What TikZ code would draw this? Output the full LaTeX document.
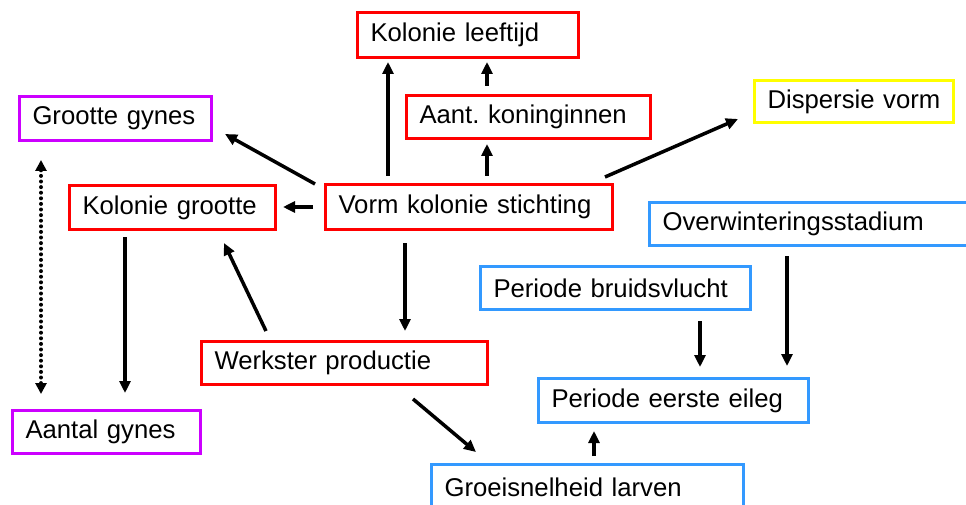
\documentclass[tikz,border=0pt]{standalone}
\usepackage{fontspec}
\setmainfont{Liberation Sans}
\usetikzlibrary{arrows.meta,calc}
\definecolor{cred}{RGB}{255,0,0}
\definecolor{cpurple}{RGB}{204,0,255}
\definecolor{cblue}{RGB}{51,153,255}
\definecolor{cyellow}{RGB}{255,255,0}
\frenchspacing
\begin{document}
\begin{tikzpicture}[x=1pt,y=-1pt,
  box/.style={draw=#1, line width=3pt, anchor=north west, inner xsep=13pt, inner ysep=0pt, align=left, font=\fontsize{25.7}{30}\selectfont},
  arr/.style={line width=3.5pt, -{Triangle[length=12pt,width=11pt]}},
  dotarr/.style={line width=4pt, dash pattern=on 0pt off 5.6pt, line cap=round, {Triangle[length=11pt,width=11pt]}-{Triangle[length=11pt,width=11pt]}}]
\useasboundingbox (0,0) rectangle (966,505);
\clip (0,0) rectangle (966,505);
\fill[white] (0,0) rectangle (966,505);
% nodes
\node[box=cred, text width=195pt, minimum height=45pt] (kl) at (356,11) {Kolonie leeftijd};
\node[box=cred, text width=218pt, minimum height=43pt] (ak) at (405,94) {Aant. koninginnen};
\node[box=cred, text width=261pt, minimum height=45pt] (vks) at (324,183) {Vorm kolonie stichting};
\node[box=cyellow, text width=173pt, minimum height=42pt] (dv) at (753,79) {Dispersie vorm};
\node[box=cpurple, text width=166pt, minimum height=44pt] (gg) at (18,95) {Grootte gynes};
\node[box=cred, text width=180pt, minimum height=44pt] (kg) at (68,184) {Kolonie grootte};
\node[box=cpurple, text width=162pt, minimum height=43pt] (ag) at (11,409) {Aantal gynes};
\node[box=cred, text width=260pt, minimum height=43pt] (wp) at (200,340) {Werkster productie};
\node[box=cblue, text width=244pt, minimum height=43pt] (pb) at (479,265) {Periode bruidsvlucht};
\node[box=cblue, text width=316pt, minimum height=43pt] (ow) at (648,201) {Overwinteringsstadium};
\node[box=cblue, text width=244pt, minimum height=44pt] (pee) at (537,377) {Periode eerste eileg};
\node[box=cblue, text width=286pt, minimum height=45pt] (gl) at (430,463) {Groeisnelheid larven};
% connectors
\draw[arr] ($(vks.north west)+(64,-7)$) -- ($(kl.south west)+(32,3)$);
\draw[arr] ($(ak.north west)+(82,-8)$) -- ($(kl.south west)+(131,3)$);
\draw[arr] ($(vks.north west)+(163,-7)$) -- ($(ak.south west)+(82,4)$);
\draw[arr] ($(vks.north east)+(-9,-6)$) -- ($(dv.south west)+(-15,-5)$);
\draw[arr] ($(vks.north west)+(-9,1)$) -- ($(gg.south east)+(12,-8)$);
\draw[arr] ($(vks.north west)+(-11,24)$) -- ($(kg.north east)+(6,23)$);
\draw[dotarr] ($(gg.south west)+(23,18)$) -- ($(ag.north west)+(30,-15)$);
\draw[arr] ($(kg.south west)+(57,6)$) -- ($(ag.north west)+(114,-16)$);
\draw[arr] ($(wp.north west)+(66,-9)$) -- ($(kg.south west)+(156,12)$);
\draw[arr] ($(vks.south west)+(81,12)$) -- ($(wp.north west)+(205,-9)$);
\draw[arr] ($(wp.south west)+(213,13)$) -- ($(gl.north west)+(46,-11)$);
\draw[arr] ($(gl.north west)+(164,-7)$) -- ($(pee.south west)+(57,7)$);
\draw[arr] ($(pb.south west)+(221,10)$) -- ($(pee.north west)+(163,-10)$);
\draw[arr] ($(ow.south west)+(139,9)$) -- ($(pee.north west)+(250,-11)$);
\end{tikzpicture}
\end{document}
